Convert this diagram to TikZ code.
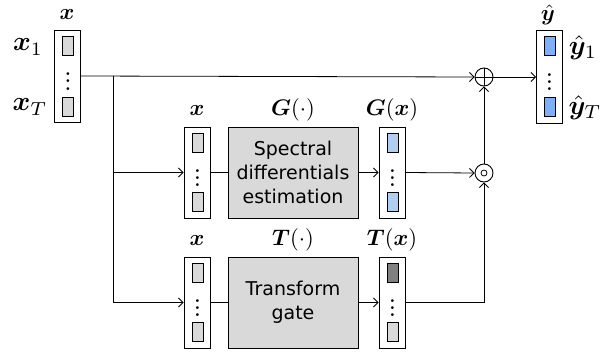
\documentclass[tikz,border=0pt]{standalone}
\usepackage{amsmath,bm,graphicx}
\usepackage{fontspec}
\newfontfamily\boxfont{DejaVu Sans}
\usetikzlibrary{arrows.meta,calc}
\definecolor{cellgray}{HTML}{D9D9D9}
\definecolor{lblue}{HTML}{B0CDF2}
\definecolor{mblue}{HTML}{7EB0FA}
\definecolor{dgray}{HTML}{808080}
\newcommand{\lblm}[1]{\scalebox{2.25}{$#1$}}
\newcommand{\sidem}[1]{\scalebox{2.7}{$#1$}}
\newcommand{\vdts}{\scalebox{1.8}{$\bm{\vdots}$}}
\begin{document}
\begin{tikzpicture}[x=1pt,y=-1pt,
  line width=0.8pt,
  arr/.style={-{Straight Barb[length=4.5pt,width=9pt]}},
  vecbox/.style={draw,line width=0.9pt,fill=white,minimum width=26pt,minimum height=92pt,inner sep=0pt},
  cell/.style={draw,line width=0.9pt,minimum width=11pt,minimum height=19pt,inner sep=0pt},
  bigbox/.style={draw,line width=0.9pt,fill=cellgray,minimum width=130pt,minimum height=91pt,inner sep=0pt,align=center,font=\boxfont\fontsize{19}{24}\selectfont},
  lbl/.style={inner sep=0pt},
  op/.style={draw,circle,line width=0.9pt,minimum size=18pt,inner sep=0pt},
  dots/.style={inner sep=0pt}
]
\useasboundingbox (0,0) rectangle (611,353);

% input vector
\node[vecbox] (in) at (67,76) {};
\node[cell,fill=cellgray] (in1) at (68,46) {};
\node[cell,fill=cellgray] (inT) at (68,107) {};
\node[dots] (ind) at (68,76) {\vdts};
\node[lbl] (inl) at (67,15) {\lblm{\bm{x}}};
\node[lbl] (inl1) at (28,47) {\sidem{\bm{x}_1}};
\node[lbl] (inlT) at (30,107) {\sidem{\bm{x}_T}};

% middle row
\node[vecbox,minimum height=91pt] (mx) at (197,172.5) {};
\node[cell,fill=cellgray] (mx1) at (197.5,143) {};
\node[cell,fill=cellgray] (mxT) at (197.5,201.5) {};
\node[dots] (mxd) at (197.5,172.5) {\vdts};
\node[lbl] (mxl) at (197,110) {\lblm{\bm{x}}};

\node[bigbox] (sde) at (293,172.5) {Spectral\\differentials\\estimation};
\node[lbl] (sdel) at (293,110) {\lblm{\bm{G}(\cdot)}};

\node[vecbox,minimum height=91pt] (gx) at (392,172.5) {};
\node[cell,fill=lblue] (gx1) at (392.5,143) {};
\node[cell,fill=lblue] (gxT) at (392.5,201.5) {};
\node[dots] (gxd) at (392.5,172.5) {\vdts};
\node[lbl] (gxl) at (392,110) {\lblm{\bm{G}(\bm{x})}};

% bottom row
\node[vecbox,minimum height=91pt] (bx) at (197,302.5) {};
\node[cell,fill=cellgray] (bx1) at (197.5,273) {};
\node[cell,fill=cellgray] (bxT) at (197.5,331.5) {};
\node[dots] (bxd) at (197.5,302.5) {\vdts};
\node[lbl] (bxl) at (197,240) {\lblm{\bm{x}}};

\node[bigbox] (tg) at (293,302.5) {Transform\\gate};
\node[lbl] (tgl) at (293,240) {\lblm{\bm{T}(\cdot)}};

\node[vecbox,minimum height=91pt] (tx) at (392,302.5) {};
\node[cell,fill=dgray] (tx1) at (392.5,273) {};
\node[cell,fill=cellgray] (txT) at (392.5,331.5) {};
\node[dots] (txd) at (392.5,302.5) {\vdts};
\node[lbl] (txl) at (392,240) {\lblm{\bm{T}(\bm{x})}};

% operators
\node[op] (plus) at (484,77) {};
\draw[line width=0.9pt] (plus.north) -- (plus.south) (plus.west) -- (plus.east);
\node[op] (odot) at (484,173) {};
\node[draw,circle,line width=0.8pt,minimum size=6pt,inner sep=0pt] (odotc) at (odot.center) {};

% output vector
\node[vecbox,minimum height=93pt] (out) at (549.5,76.5) {};
\node[cell,fill=mblue] (out1) at (549.5,46) {};
\node[cell,fill=mblue] (outT) at (549.5,107) {};
\node[dots] (outd) at (549.5,76.5) {\vdts};
\node[lbl] (outl) at (548,15) {\lblm{\hat{\bm{y}}}};
\node[lbl] (outl1) at (583,48) {\sidem{\hat{\bm{y}}_1}};
\node[lbl] (outlT) at (585,108) {\sidem{\hat{\bm{y}}_T}};

% connectors
\coordinate (br) at (113,76);
\coordinate (brb) at (113,302.5);
\coordinate (tc) at (484,302.5);
\draw[arr] (in.east |- br) -- (plus.west);
\draw (br) -- (brb);
\draw[arr] (br |- mx.west) -- (mx.west);
\draw[arr] (brb) -- (bx.west);
\draw (mx.east) -- (sde.west);
\draw[arr] (sde.east) -- (gx.west);
\draw[arr] (gx.east) -- (odot.west);
\draw (bx.east) -- (tg.west);
\draw[arr] (tg.east) -- (tx.west);
\draw[arr] (tx.east) -- (tc) -- (odot.south);
\draw[arr] (odot.north) -- (plus.south);
\draw[arr] (plus.east) -- (out.west |- plus.east);
\end{tikzpicture}
\end{document}
